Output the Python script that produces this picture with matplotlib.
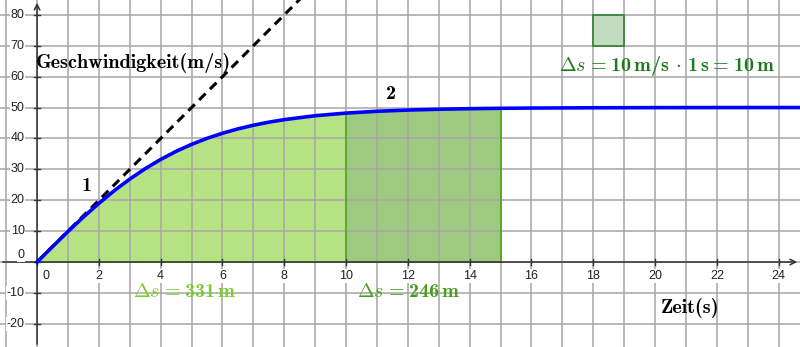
import numpy as np
import matplotlib
matplotlib.use("Agg")
import matplotlib.pyplot as plt
from matplotlib.patches import Rectangle
from matplotlib.ticker import MultipleLocator

plt.rcParams["mathtext.fontset"] = "cm"

# velocity curve (t in s, v in m/s)
t = [0, 0.5, 1, 1.5, 2, 2.5, 3, 3.5, 4, 4.5, 5, 5.5, 6, 6.5, 7, 7.5, 8, 9, 10,
     11, 12, 13, 14, 15, 16, 18, 20, 22, 25]
v = [0, 4.98, 9.87, 14.57, 18.99, 23.11, 26.85, 30.22, 33.20, 35.82, 38.08, 40.03,
     41.68, 43.09, 44.27, 45.26, 46.08, 47.35, 48.20,
     48.79, 49.18, 49.45, 49.63, 49.75, 49.83, 49.92, 49.97, 49.99, 50.0]
tangent_t = [0, 8.8]
tangent_v = [0, 88]
area1 = (0, 10)
area2 = (10, 15)
unit_square = (18, 70, 1, 10)   # x, y, width, height
x_ticks = [0, 2, 4, 6, 8, 10, 12, 14, 16, 18, 20, 22, 24]
y_ticks = [-20, -10, 0, 10, 20, 30, 40, 50, 60, 70, 80]

t = np.array(t); v = np.array(v)
BOLD = dict(family="cmb10", fontsize=14.5)

fig = plt.figure(figsize=(8.0, 3.47), dpi=100)
ax = fig.add_axes([0, 0, 1, 1])
ax.set_xlim(-1.2, 24.69)
ax.set_ylim(-27.5, 84.8)

# grid
ax.xaxis.set_major_locator(MultipleLocator(1))
ax.yaxis.set_major_locator(MultipleLocator(10))
ax.grid(True, color="#a6a6a6", lw=1.1, zorder=0)
ax.tick_params(length=0, labelbottom=False, labelleft=False)
for s in ax.spines.values():
    s.set_visible(False)

# axes with arrows
ax.annotate("", xy=(24.69, 0), xytext=(-1.2, 0),
            arrowprops=dict(arrowstyle="->", color="#333333", lw=1.1), zorder=3)
ax.annotate("", xy=(0, 84.8), xytext=(0, -27.5),
            arrowprops=dict(arrowstyle="->", color="#333333", lw=1.1), zorder=3)
for x in x_ticks:
    ax.plot([x, x], [-1.0, 1.0], color="#333333", lw=1.0, zorder=3)
    ax.text(x + (0.3 if x == 0 else 0), -2.5, str(x), ha="center", va="top",
            fontsize=9, family="Liberation Sans", color="#222222",
            bbox=dict(fc="white", ec="none", pad=0.5))
for y in y_ticks:
    ax.plot([-0.1, 0.1], [y, y], color="#333333", lw=1.0, zorder=3)
    ax.text(-0.4, y + (2.2 if y == 0 else 0), str(y), ha="right", va="center",
            fontsize=9, family="Liberation Sans", color="#222222",
            bbox=dict(fc="white", ec="none", pad=0.5))

# areas under the curve
m1 = (t >= area1[0]) & (t <= area1[1])
m2 = (t >= area2[0]) & (t <= area2[1])
ax.fill_between(t[m1], 0, v[m1], color="#b3e17d", lw=0, zorder=1, alpha=0.95)
ax.fill_between(t[m2], 0, v[m2], color="#8cc06a", lw=0, zorder=1, alpha=0.85)
ax.plot([area1[0], area1[1]], [0, 0], color="#6cbf2a", lw=1.3, zorder=2)
ax.plot([area2[0], area2[0]], [0, v[t == area2[0]][0]], color="#4ea41c", lw=1.2, zorder=2)
ax.plot([area2[1], area2[1]], [0, v[t == area2[1]][0]], color="#4ea41c", lw=1.2, zorder=2)
ax.plot([area2[0], area2[1]], [0, 0], color="#4ea41c", lw=1.3, zorder=2)

# unit square
ax.add_patch(Rectangle(unit_square[:2], unit_square[2], unit_square[3],
                       fc="#c2dcc2", ec="#2e7d2e", lw=1.2, zorder=2))

# curve and tangent
ax.plot(tangent_t, tangent_v, color="black", lw=2.2, ls=(0, (3, 2)), zorder=4)
ax.plot(t, v, color="#0000ff", lw=2.6, zorder=5)

# labels
ax.text(-0.05, 64.5, "Geschwindigkeit(m/s)", ha="left", va="center", **BOLD)
ax.text(20.2, -15.0, "Zeit(s)", ha="left", va="center", **BOLD)
ax.text(1.45, 24.5, "1", ha="left", va="center", **BOLD)
ax.text(11.3, 54.5, "2", ha="left", va="center", **BOLD)
ax.text(3.1, -9.8, r"$\Delta s\;$=$\;$331$\,$m", color="#7acc2a",
        ha="left", va="center", **BOLD)
ax.text(10.35, -9.8, r"$\Delta s\;$=$\;$246$\,$m", color="#4a9e1e",
        ha="left", va="center", **BOLD)
ax.text(16.9, 63.4, r"$\Delta s\;$=$\;$10$\,$m/s$\,\cdot\,$1$\,$s$\;$=$\;$10$\,$m",
        color="#1e7a1e", ha="left", va="center", **BOLD)

fig.savefig("out.png", dpi=100)
plt.close(fig)
